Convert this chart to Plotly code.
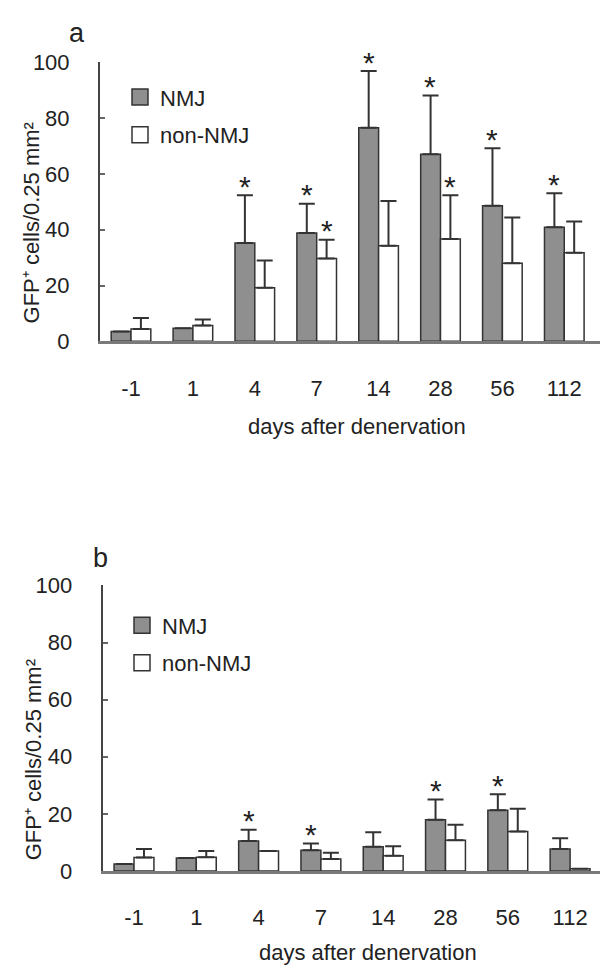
import plotly.graph_objects as go

days = ['-1', '1', '4', '7', '14', '28', '56', '112']

# Panel a
a_nmj = [3.5, 4.7, 35.3, 38.8, 76.6, 67.1, 48.6, 40.9]
a_nmj_err = [0, 0, 17.1, 10.5, 20.3, 21.0, 20.6, 12.2]
a_non = [4.4, 5.7, 19.2, 29.7, 34.3, 36.7, 28.0, 31.8]
a_non_err = [4.0, 2.1, 9.8, 6.7, 16.0, 15.7, 16.4, 11.2]
a_sig_nmj = [0, 0, 1, 1, 1, 1, 1, 1]
a_sig_non = [0, 0, 0, 1, 0, 1, 0, 0]

# Panel b
b_nmj = [2.4, 4.5, 10.5, 7.3, 8.5, 17.9, 21.3, 7.7]
b_nmj_err = [0, 0, 3.9, 2.3, 5.1, 7.1, 5.6, 3.8]
b_non = [4.7, 4.8, 7.0, 4.2, 5.3, 10.8, 13.8, 0.8]
b_non_err = [3.0, 2.2, 0, 2.2, 3.4, 5.4, 8.0, 0]
b_sig_nmj = [0, 0, 1, 1, 0, 1, 1, 0]
b_sig_non = [0, 0, 0, 0, 0, 0, 0, 0]

FONT = "Liberation Sans, Arial, sans-serif"
TXT = "#222222"
GRAY = "#8f8f8f"
EDGE = "#333333"

fig = go.Figure()


def add_panel(xa, ya, nmj, nmj_err, non, non_err, legend):
    fig.add_trace(go.Bar(
        x=days, y=nmj, xaxis=xa, yaxis=ya, name="NMJ", showlegend=False,
        marker=dict(color=GRAY, line=dict(color=EDGE, width=1.5)),
        error_y=dict(type="data", symmetric=False, array=nmj_err,
                     arrayminus=[0] * len(nmj_err), color=EDGE,
                     thickness=2, width=8)))
    fig.add_trace(go.Bar(
        x=days, y=non, xaxis=xa, yaxis=ya, name="non-NMJ", showlegend=False,
        marker=dict(color="white", line=dict(color=EDGE, width=1.5)),
        error_y=dict(type="data", symmetric=False, array=non_err,
                     arrayminus=[0] * len(non_err), color=EDGE,
                     thickness=2, width=8)))
    # legend-only swatches
    fig.add_trace(go.Scatter(
        x=[None], y=[None], xaxis=xa, yaxis=ya, mode="markers", name="NMJ",
        legend=legend, legendgroup=legend + "1",
        marker=dict(symbol="square", size=20, color=GRAY,
                    line=dict(color=EDGE, width=1.5))))
    fig.add_trace(go.Scatter(
        x=[None], y=[None], xaxis=xa, yaxis=ya, mode="markers", name="non-NMJ",
        legend=legend, legendgroup=legend + "2",
        marker=dict(symbol="square", size=20, color="white",
                    line=dict(color=EDGE, width=1.5))))


add_panel("x", "y", a_nmj, a_nmj_err, a_non, a_non_err, "legend")
add_panel("x2", "y2", b_nmj, b_nmj_err, b_non, b_non_err, "legend2")

annotations = []


def add_stars(xref, yref, vals, errs, sig, shift):
    for i, (v, e, s) in enumerate(zip(vals, errs, sig)):
        if s:
            annotations.append(dict(
                x=i, y=v + e, xref=xref, yref=yref, text="*", showarrow=False,
                xshift=shift, yshift=9, yanchor="middle", xanchor="center",
                font=dict(family=FONT, size=30, color=TXT)))


add_stars("x", "y", a_nmj, a_nmj_err, a_sig_nmj, -10)
add_stars("x", "y", a_non, a_non_err, a_sig_non, 10)
add_stars("x2", "y2", b_nmj, b_nmj_err, b_sig_nmj, -10)
add_stars("x2", "y2", b_non, b_non_err, b_sig_non, 10)

ytitle = "GFP\u207a cells/0.25 mm\u00b2"
for (px, py) in [(31, 217), (33, 768)]:
    annotations.append(dict(
        x=px / 600, y=1 - py / 978, xref="paper", yref="paper", text=ytitle,
        textangle=-90, showarrow=False, xanchor="center", yanchor="middle",
        font=dict(family=FONT, size=22, color=TXT)))
for (px, py) in [(357, 425), (368, 965)]:
    annotations.append(dict(
        x=px / 600, y=1 - py / 978, xref="paper", yref="paper",
        text="days after denervation", showarrow=False,
        xanchor="center", yanchor="middle",
        font=dict(family=FONT, size=22, color=TXT)))
for (lbl, px, py) in [("a", 77, 22), ("b", 100, 560)]:
    annotations.append(dict(
        x=px / 600, y=1 - py / 978, xref="paper", yref="paper", text=lbl,
        showarrow=False, xanchor="center", yanchor="middle",
        font=dict(family=FONT, size=27, color=TXT)))

xcommon = dict(type="category", showline=True, linecolor="#7a7a7a",
               linewidth=3, ticks="", showgrid=False, zeroline=False,
               ticklabelstandoff=25,
               tickfont=dict(family=FONT, size=22, color=TXT))
ycommon = dict(range=[0, 100], dtick=20, showline=True, linecolor="#444444",
               linewidth=2, ticks="inside", ticklen=5, tickcolor="#666666",
               tickwidth=1.5, showgrid=False, zeroline=False,
               ticklabelstandoff=24,
               tickfont=dict(family=FONT, size=22, color=TXT))

legcommon = dict(font=dict(family=FONT, size=22, color=TXT),
                 bgcolor="rgba(0,0,0,0)", traceorder="grouped",
                 tracegroupgap=6, itemwidth=30, xanchor="left",
                 yanchor="top")

fig.update_layout(
    width=600, height=978, margin=dict(l=0, r=0, t=0, b=0),
    paper_bgcolor="white", plot_bgcolor="white",
    barmode="group", bargap=0.36, bargroupgap=0,
    xaxis=dict(domain=[100 / 600, 1], range=[-0.5008, 7.577],
               anchor="y", **xcommon),
    yaxis=dict(domain=[1 - 338 / 978, 1 - 51.7 / 978], anchor="x",
               **ycommon),
    xaxis2=dict(domain=[102.7 / 600, 1], range=[-0.5024, 7.480],
                anchor="y2", **xcommon),
    yaxis2=dict(domain=[1 - 881.5 / 978, 1 - 588.5 / 978], anchor="x2",
                **ycommon),
    legend=dict(x=120 / 600, y=1 - 66 / 978, **legcommon),
    legend2=dict(x=122 / 600, y=1 - 608 / 978, **legcommon),
    annotations=annotations,
)

fig.write_html("out.html")
